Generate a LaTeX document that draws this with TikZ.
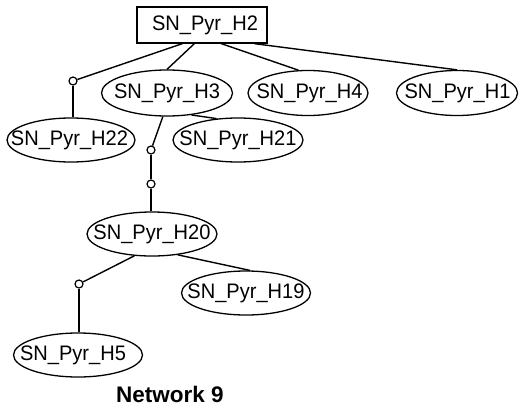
\documentclass[tikz,border=0pt]{standalone}
\usepackage{fontspec}
\usepackage{graphicx}
\setmainfont{Liberation Sans}
\usetikzlibrary{shapes.geometric,calc}
\newcommand{\lbltxt}[2][0pt]{\makebox[0pt]{\hspace{#1}\scalebox{0.955}[1]{#2}}}
\begin{document}
\begin{tikzpicture}[x=1pt,y=1pt,
  lbl/.style={font=\fontsize{21}{23}\selectfont},
  ell/.style={draw,ellipse,line width=1.3pt,inner sep=0pt,minimum width=129pt,minimum height=45pt,lbl},
  ellnarrow/.style={ell,minimum width=120pt},
  boxnode/.style={draw,rectangle,line width=1.3pt,inner sep=0pt,minimum width=130pt,minimum height=36pt,lbl},
  junc/.style={draw,circle,fill=white,line width=1.2pt,inner sep=0pt,minimum size=8pt},
  conn/.style={line width=1.4pt}]
\useasboundingbox (0,0) rectangle (521,-412);
\node[boxnode] (h2) at (202,-25) {\lbltxt[6pt]{SN\_Pyr\_H2}};
\node[ell,minimum width=131pt,minimum height=46pt] (h3) at (167,-93) {\lbltxt{SN\_Pyr\_H3}};
\node[ellnarrow] (h4) at (308,-93) {\lbltxt[3pt]{SN\_Pyr\_H4}};
\node[ellnarrow,minimum width=121pt] (h1) at (457,-93) {\lbltxt[1pt]{SN\_Pyr\_H1}};
\node[ell,minimum width=128pt,minimum height=44pt] (h22) at (71,-140) {\lbltxt[-3pt]{SN\_Pyr\_H22}};
\node[ell,minimum width=130pt,minimum height=44pt] (h21) at (238,-140) {\lbltxt{SN\_Pyr\_H21}};
\node[ell,minimum width=130pt,minimum height=44pt] (h20) at (152,-234) {\lbltxt{SN\_Pyr\_H20}};
\node[ell,minimum width=129pt,minimum height=44pt] (h19) at (246,-293) {\lbltxt{SN\_Pyr\_H19}};
\node[ell,minimum width=129pt,minimum height=44pt] (h5) at (78,-355) {\lbltxt[-10pt]{SN\_Pyr\_H5}};
\node[junc] (j1) at (73,-81) {};
\node[junc] (j2) at (151,-150) {};
\node[junc] (j3) at (151,-184) {};
\node[junc] (j4) at (79,-284) {};
\node[font=\fontsize{22.5}{24}\selectfont\bfseries] (title) at (170,-394) {Network 9};
% connectors
\draw[conn] ($(h2.south west)+(46,0)$) -- (j1);
\draw[conn] (j1) -- (j1 |- h22.north);
\draw[conn] ($(h2.south west)+(58,0)$) -- (h3.north);
\draw[conn] ($(h2.south west)+(85,0)$) -- (h4.113);
\draw[conn] ($(h2.south west)+(118,0)$) -- (h1.north);
\draw[conn] (h3.260) -- (j2);
\draw[conn] (h3.-42) -- (h21.135);
\draw[conn] (j2) -- (j3);
\draw[conn] (j3) -- (j3 |- h20.north);
\draw[conn] (h20.231) -- (j4);
\draw[conn] (h20.-39) -- (h19.80);
\draw[conn] (j4) -- (j4 |- h5.north);
\end{tikzpicture}
\end{document}
